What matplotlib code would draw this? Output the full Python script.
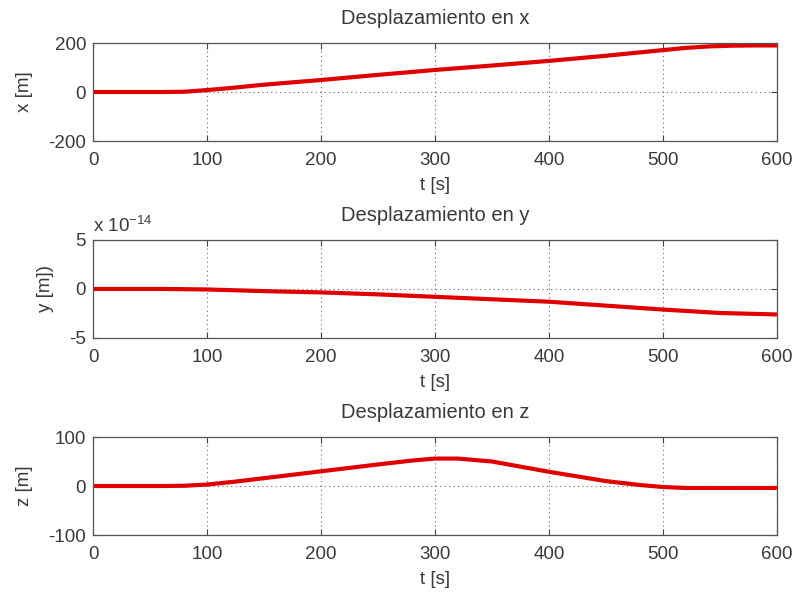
import numpy as np
import matplotlib.pyplot as plt
from matplotlib.ticker import ScalarFormatter

# ── Trajectory samples: time and displacement components ─────────
t_x = [0, 60, 80, 100, 120, 150, 200, 250, 300, 350, 400, 450, 500, 520, 540, 560, 580, 600]
x_m = [0, 0, 1, 8, 16, 30, 49, 70, 90, 108, 127, 148, 171, 180, 186, 189, 190, 190]

t_y = [0, 65, 100, 130, 160, 200, 250, 300, 350, 400, 450, 500, 550, 600]
y_m = [0.0, 0.0, -0.05e-14, -0.15e-14, -0.25e-14, -0.35e-14, -0.55e-14, -0.8e-14,
       -1.05e-14, -1.3e-14, -1.7e-14, -2.1e-14, -2.45e-14, -2.6e-14]

t_z = [0, 60, 80, 100, 125, 150, 200, 250, 280, 300, 320, 350, 400, 450, 480, 500, 520, 540, 600]
z_m = [0, 0, 0.5, 3, 9, 16, 30, 44, 52, 56, 56, 50, 29, 10, 2, -2, -4, -4, -4]

titles  = ['Desplazamiento en x', 'Desplazamiento en y', 'Desplazamiento en z']
ylabels = ['x [m]', 'y [m])', 'z [m]']
ylims   = [(-200, 200), (-5e-14, 5e-14), (-100, 100)]
yticks  = [[-200, 0, 200], [-5e-14, 0, 5e-14], [-100, 0, 100]]
xticks  = [0, 100, 200, 300, 400, 500, 600]

plt.rcParams['font.family'] = ['Liberation Sans', 'DejaVu Sans']
plt.rcParams['axes.unicode_minus'] = False
plt.rcParams['mathtext.default'] = 'regular'

txt = '#3a3a3a'
fig = plt.figure(figsize=(7.96, 5.94), dpi=100)
boxes = [(0.117, 0.7626), (0.117, 0.431), (0.117, 0.0993)]
series = [(t_x, x_m), (t_y, y_m), (t_z, z_m)]

for i, ((left, bottom), (t, v)) in enumerate(zip(boxes, series)):
    ax = fig.add_axes([left, bottom, 0.859, 0.165])
    ax.plot(t, v, color='#e00000', linewidth=3, solid_capstyle='butt')
    ax.set_xlim(0, 600)
    ax.set_ylim(*ylims[i])
    ax.set_xticks(xticks)
    ax.set_yticks(yticks[i])
    ax.grid(True, linestyle=(0, (1, 3)), color='#666666', linewidth=0.8)
    ax.tick_params(direction='in', top=True, right=True, length=4,
                   colors='#444444', labelcolor=txt, labelsize=13.5)
    ax.tick_params(axis='x', pad=8)
    ax.tick_params(axis='y', pad=5)
    for s in ax.spines.values():
        s.set_color('#555555')
        s.set_linewidth(0.9)
    ax.set_title(titles[i], fontsize=14.5, color=txt, pad=14)
    ax.set_ylabel(ylabels[i], fontsize=13.5, color=txt, labelpad=11)
    ax.set_xlabel('t [s]', fontsize=13.5, color=txt, labelpad=6)
    if i == 1:
        fmt = ScalarFormatter()
        fmt.set_powerlimits((0, 0))
        ax.yaxis.set_major_formatter(fmt)
        ax.yaxis.get_offset_text().set_visible(False)
        ax.text(0, 1.04, 'x 10$^{-14}$', transform=ax.transAxes,
                fontsize=13.5, color=txt, ha='left', va='bottom')

fig.savefig('out.png', dpi=100, facecolor='white')
